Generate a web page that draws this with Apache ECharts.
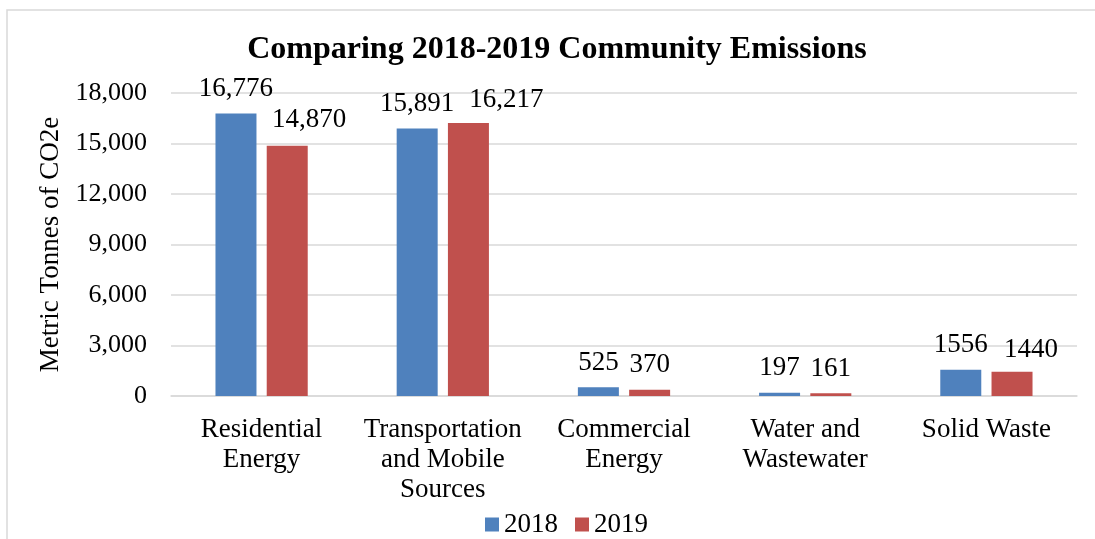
<!DOCTYPE html>
<html>
<head>
<meta charset="utf-8">
<title>Comparing 2018-2019 Community Emissions</title>
<script src="https://cdn.jsdelivr.net/npm/echarts@6/dist/echarts.min.js"></script>
<style>
  html, body { margin: 0; padding: 0; background: #ffffff; }
  #chart { width: 1095px; height: 539px; }
</style>
</head>
<body>
<div id="chart"></div>
<script>
// Emission sectors (line breaks follow the wrapped axis labels)
const categories = [
  'Residential\nEnergy',
  'Transportation\nand Mobile\nSources',
  'Commercial\nEnergy',
  'Water and\nWastewater',
  'Solid Waste'
];
const seriesNames = ['2018', '2019'];
const values2018 = [16776, 15891, 525, 197, 1556];
const values2019 = [14870, 16217, 370, 161, 1440];
// Value label text as printed on the chart
const labels2018 = ['16,776', '15,891', '525', '197', '1556'];
const labels2019 = ['14,870', '16,217', '370', '161', '1440'];
const yTicks = { min: 0, max: 18000, interval: 3000 };

const FONT = '"Liberation Serif", "Times New Roman", serif';
const BLUE = '#4F81BD';
const RED = '#C0504D';
const GRID = '#D9D9D9';

// Hand-placed label nudges for a few of the 2019 bars
const offsets2019 = [[22, -1], [38, 1], [0, 0], [0, 0], [19, 3]];

function buildData(values, texts, offsets) {
  return values.map((v, i) => {
    const item = { value: v, label: { formatter: texts[i] } };
    if (offsets) item.label.offset = offsets[i];
    return item;
  });
}

const labelStyle = {
  show: true,
  position: 'top',
  distance: 11,
  color: '#000',
  fontFamily: FONT,
  fontSize: 27
};

const chart = echarts.init(document.getElementById('chart'), null, { renderer: 'canvas' });

chart.setOption({
  animation: false,
  backgroundColor: '#ffffff',
  graphic: [{
    type: 'rect',
    shape: { x: 7, y: 10, width: 1200, height: 600 },
    style: { fill: 'none', stroke: GRID, lineWidth: 1.5 },
    silent: true,
    z: -10
  }],
  title: {
    text: 'Comparing 2018-2019 Community Emissions',
    left: 557,
    top: 34,
    padding: 0,
    textAlign: 'center',
    textStyle: { fontFamily: FONT, fontSize: 32, fontWeight: 'bold', color: '#000' }
  },
  legend: {
    data: seriesNames,
    left: 485,
    top: 511,
    padding: 0,
    icon: 'rect',
    itemWidth: 14,
    itemHeight: 14,
    itemGap: 17,
    textStyle: { fontFamily: FONT, fontSize: 27, color: '#000' }
  },
  grid: { left: 171, right: 18, top: 93, bottom: 143, containLabel: false },
  xAxis: {
    type: 'category',
    data: categories,
    axisLine: { show: true, lineStyle: { color: GRID, width: 1.5 } },
    axisTick: { show: false },
    axisLabel: {
      interval: 0,
      margin: 19,
      color: '#000',
      fontFamily: FONT,
      fontSize: 27,
      lineHeight: 30
    }
  },
  yAxis: {
    type: 'value',
    min: yTicks.min,
    max: yTicks.max,
    interval: yTicks.interval,
    name: 'Metric Tonnes of CO2e',
    nameLocation: 'middle',
    nameGap: 106,
    nameRotate: 90,
    nameTextStyle: { fontFamily: FONT, fontSize: 27, color: '#000' },
    axisLine: { show: false },
    axisTick: { show: false },
    splitLine: { lineStyle: { color: GRID, width: 1.5 } },
    axisLabel: {
      margin: 24,
      color: '#000',
      fontFamily: FONT,
      fontSize: 26,
      formatter: v => v.toLocaleString('en-US')
    }
  },
  series: [
    {
      name: seriesNames[0],
      type: 'bar',
      barWidth: 41,
      barGap: '25%',
      itemStyle: { color: BLUE },
      label: labelStyle,
      data: buildData(values2018, labels2018, null)
    },
    {
      name: seriesNames[1],
      type: 'bar',
      barWidth: 41,
      barGap: '25%',
      itemStyle: { color: RED },
      label: labelStyle,
      data: buildData(values2019, labels2019, offsets2019)
    }
  ]
});
</script>
</body>
</html>
